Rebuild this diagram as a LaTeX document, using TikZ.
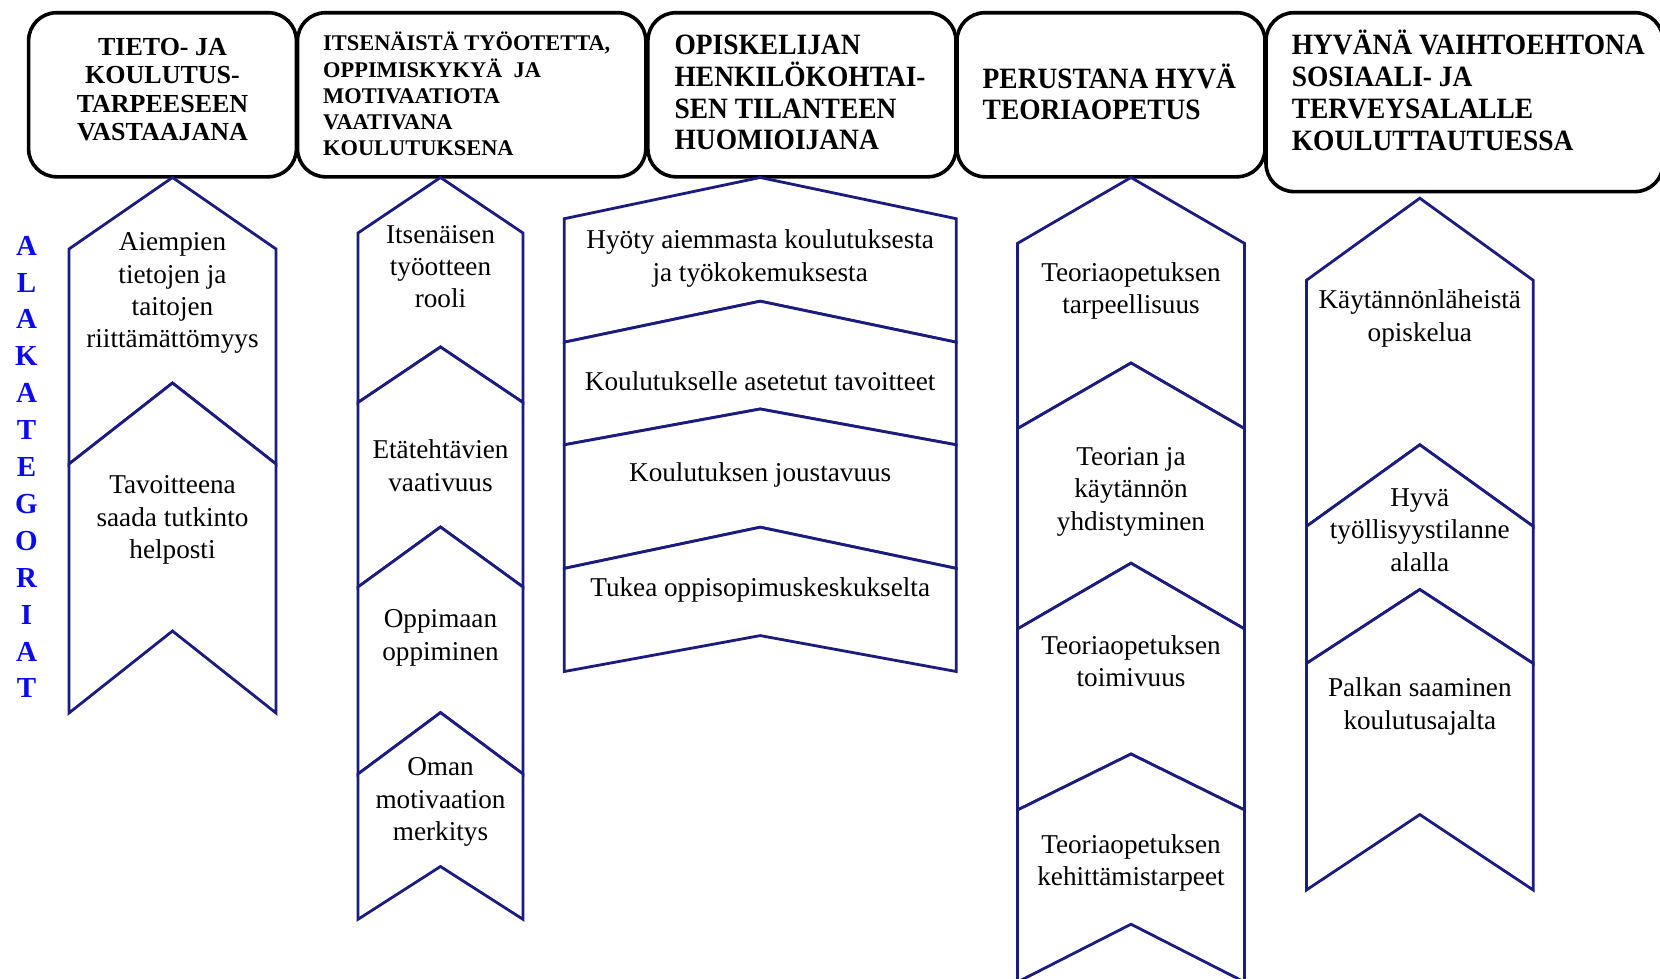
\documentclass[tikz,border=0pt]{standalone}
\usepackage{fontspec}
\setmainfont{Liberation Serif}
\newfontfamily\hdcond[FakeStretch=0.93]{Liberation Serif}
\definecolor{navyc}{RGB}{28,28,128}
\definecolor{lblblue}{RGB}{10,10,240}
\newcommand\chevseg[7]{\draw[chev] (#1,#5) -- (#3,#4) -- (#2,#5) -- (#2,#7) -- (#3,#6) -- (#1,#7) -- cycle;}
\begin{document}
\begin{tikzpicture}[x=1pt,y=-1pt,
  hdrbox/.style={draw=black, line width=3.6pt, rounded corners=28pt},
  chev/.style={draw=navyc, line width=2.8pt, fill=white, line join=miter},
  lbl/.style={inner sep=0pt, align=center, font=\fontsize{27.2}{32.4}\selectfont,
    yshift=-4.5pt, execute at begin node=\strut, execute at end node=\strut},
  hdone/.style={inner sep=0pt, align=center, font=\bfseries\fontsize{26}{28.6}\selectfont,
    execute at begin node=\strut, execute at end node=\strut},
  hdtwo/.style={inner sep=0pt, align=left, anchor=west, font=\bfseries\fontsize{22.4}{26.2}\selectfont,
    execute at begin node=\strut, execute at end node=\strut},
  hdcn/.style={inner sep=0pt, align=left, anchor=west, font=\hdcond\bfseries\fontsize{29.5}{31.8}\selectfont,
    execute at begin node=\strut, execute at end node=\strut},
  vlabel/.style={inner sep=0pt, align=center, text=lblblue, font=\bfseries\fontsize{29}{36.9}\selectfont,
    execute at begin node=\strut, execute at end node=\strut}
]
\fill[white] (0,0) rectangle (1660,978);
\useasboundingbox (0,0) rectangle (1660,978);

% header boxes
\draw[hdrbox] (28.6,12.7) rectangle (296.4,176.8);
\draw[hdrbox] (297.5,12.7) rectangle (645.8,176.8);
\draw[hdrbox] (647.9,12.7) rectangle (956,176.8);
\draw[hdrbox] (957,12.7) rectangle (1265,176.8);
\draw[hdrbox] (1266,12.7) rectangle (1663,191.6);

\node[hdone] (h1) at (162.5,93.6) {TIETO- JA\\KOULUTUS-\\TARPEESEEN\\VASTAAJANA};
\node[hdtwo] (h2) at (323,98) {ITSENÄISTÄ TYÖOTETTA,\\OPPIMISKYKYÄ~~JA\\MOTIVAATIOTA\\VAATIVANA\\KOULUTUKSENA};
\node[hdcn] (h3) at (674.4,97.2) {OPISKELIJAN\\HENKILÖKOHTAI-\\SEN TILANTEEN\\HUOMIOIJANA};
\node[hdcn] (h4) at (982.5,96.5) {PERUSTANA HYVÄ\\TEORIAOPETUS};
\node[hdcn] (h5) at (1291.6,95) {HYVÄNÄ VAIHTOEHTONA\\SOSIAALI- JA\\TERVEYSALALLE\\KOULUTTAUTUESSA};

% vertical label
\node[vlabel] (alakat) at (26.5,472.5) {A\\L\\A\\K\\A\\T\\E\\G\\O\\R\\I\\A\\T};

% column 1
\chevseg{69}{276}{172.5}{177.5}{249}{383}{464}
\chevseg{69}{276}{172.5}{383}{464}{631}{713}
\node[lbl] (c1a) at (172.5,290.6) {Aiempien\\tietojen ja\\taitojen\\riittämättömyys};
\node[lbl] (c1b) at (172.5,517.4) {Tavoitteena\\saada tutkinto\\helposti};

% column 2
\chevseg{358}{523}{440.5}{177.5}{233}{347}{402.5}
\chevseg{358}{523}{440.5}{347}{402.5}{527}{587}
\chevseg{358}{523}{440.5}{527}{587}{712.6}{774}
\chevseg{358}{523}{440.5}{712.6}{774}{866.5}{919.3}
\node[lbl] (c2a) at (440.5,266.8) {Itsenäisen\\työotteen\\rooli};
\node[lbl] (c2b) at (440.5,465.9) {Etätehtävien\\vaativuus};
\node[lbl] (c2c) at (440.5,635.2) {Oppimaan\\oppiminen};
\node[lbl] (c2d) at (440.5,799.6) {Oman\\motivaation\\merkitys};

% column 3
\chevseg{564.3}{956.3}{760.2}{177.5}{218.7}{301.2}{342.2}
\chevseg{564.3}{956.3}{760.2}{301.2}{342.2}{409}{444.8}
\chevseg{564.3}{956.3}{760.2}{409}{444.8}{527.2}{568.4}
\chevseg{564.3}{956.3}{760.2}{527.2}{568.4}{635.6}{671.5}
\node[lbl] (c3a) at (760.2,256) {Hyöty aiemmasta koulutuksesta\\ja työkokemuksesta};
\node[lbl] (c3b) at (760.2,380) {Koulutukselle asetetut tavoitteet};
\node[lbl] (c3c) at (760.2,471) {Koulutuksen joustavuus};
\node[lbl] (c3d) at (760.2,586) {Tukea oppisopimuskeskukselta};

% column 4
\chevseg{1017.5}{1244.5}{1131}{177.5}{243.4}{363}{428.6}
\chevseg{1017.5}{1244.5}{1131}{363}{428.6}{563.2}{629}
\chevseg{1017.5}{1244.5}{1131}{563.2}{629}{754}{810}
\chevseg{1017.5}{1244.5}{1131}{754}{810}{924.2}{982}
\node[lbl] (c4a) at (1131,288.5) {Teoriaopetuksen\\tarpeellisuus};
\node[lbl] (c4b) at (1131,489.1) {Teorian ja\\käytännön\\yhdistyminen};
\node[lbl] (c4c) at (1131,661.2) {Teoriaopetuksen\\toimivuus};
\node[lbl] (c4d) at (1131,860.2) {Teoriaopetuksen\\kehittämistarpeet};

% column 5
\chevseg{1306.4}{1533.2}{1419.8}{198.2}{280.3}{444.8}{526.4}
\chevseg{1306.4}{1533.2}{1419.8}{444.8}{526.4}{589.5}{663.5}
\chevseg{1306.4}{1533.2}{1419.8}{589.5}{663.5}{814.6}{890}
\node[lbl] (c5a) at (1419.8,316) {Käytännönläheistä\\opiskelua};
\node[lbl] (c5b) at (1419.8,530.4) {Hyvä\\työllisyystilanne\\alalla};
\node[lbl] (c5c) at (1419.8,704.1) {Palkan saaminen\\koulutusajalta};
\end{tikzpicture}
\end{document}
